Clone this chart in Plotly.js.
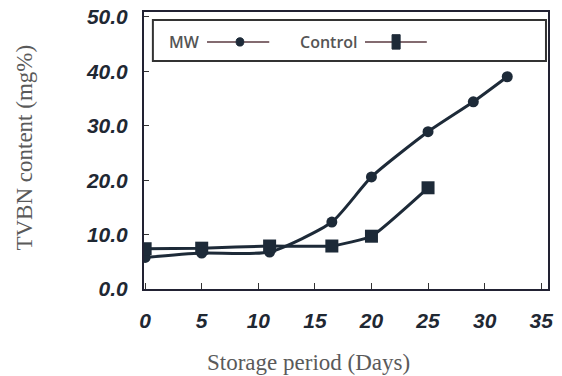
<!DOCTYPE html>
<html>
<head>
<meta charset="utf-8">
<script src="https://cdn.plot.ly/plotly-3.0.1.min.js"></script>
<style>
  html, body { margin: 0; padding: 0; background: #fff; }
  #chart { width: 562px; height: 376px; }
</style>
</head>
<body>
<div id="chart"></div>
<script>
// Storage days and TVBN readings (mg%)
const mwDays = [0, 5, 11, 16.5, 20, 25, 29, 32];
const mwTvbn = [5.8, 6.6, 6.8, 12.3, 20.6, 28.9, 34.4, 39.0];
const controlDays = [0, 5, 11, 16.5, 20, 25];
const controlTvbn = [7.4, 7.5, 7.9, 7.9, 9.7, 18.6];

const xTicks = [0, 5, 10, 15, 20, 25, 30, 35];
const yTicks = [0, 10, 20, 30, 40, 50];
const seriesNames = ['MW', 'Control'];

const ink = '#1d2a38';
const tickFont = { family: 'Liberation Sans, Arial, sans-serif', size: 21, color: '#1f2833', weight: 'bold', style: 'italic' };
const titleFont = { family: 'Liberation Serif, Times New Roman, serif', size: 23, color: '#5a5a5a' };
const legendFont = { family: 'Open Sans, sans-serif', size: 16, color: '#555', weight: 600 };

const traces = [
  {
    x: mwDays, y: mwTvbn, name: seriesNames[0], type: 'scatter', mode: 'lines+markers',
    line: { color: ink, width: 3, shape: 'spline', smoothing: 0.6 },
    marker: { symbol: 'circle', size: 11, color: ink }
  },
  {
    x: controlDays, y: controlTvbn, name: seriesNames[1], type: 'scatter', mode: 'lines+markers',
    line: { color: ink, width: 3, shape: 'spline', smoothing: 0.4 },
    marker: { symbol: 'square', size: 13, color: ink }
  }
];

// Legend drawn by hand: label first, then the line sample with its marker
const shapes = [
  { type: 'rect', xref: 'paper', yref: 'paper', x0: 0.022, x1: 0.995, y0: 0.823, y1: 0.971,
    line: { color: '#333', width: 2 }, fillcolor: 'rgba(0,0,0,0)' },
  { type: 'line', xref: 'paper', yref: 'paper', x0: 0.156, x1: 0.31, y0: 0.892, y1: 0.892,
    line: { color: '#5a3a40', width: 1.5 } },
  { type: 'circle', xref: 'paper', yref: 'paper', x0: 0.228, x1: 0.247, y0: 0.877, y1: 0.907,
    fillcolor: ink, line: { color: ink, width: 1 } },
  { type: 'line', xref: 'paper', yref: 'paper', x0: 0.547, x1: 0.70, y0: 0.892, y1: 0.892,
    line: { color: '#5a3a40', width: 1.5 } },
  { type: 'rect', xref: 'paper', yref: 'paper', x0: 0.614, x1: 0.634, y0: 0.866, y1: 0.918,
    fillcolor: ink, line: { color: ink, width: 1 } }
];

const annotations = [
  { text: seriesNames[0], xref: 'paper', yref: 'paper', x: 0.057, y: 0.892, xanchor: 'left', yanchor: 'middle',
    showarrow: false, font: legendFont },
  { text: seriesNames[1], xref: 'paper', yref: 'paper', x: 0.381, y: 0.892, xanchor: 'left', yanchor: 'middle',
    showarrow: false, font: legendFont },
  { text: 'Storage period (Days)', xref: 'paper', yref: 'paper', x: 0.408, y: -0.265, xanchor: 'center', yanchor: 'middle',
    showarrow: false, font: titleFont },
  { text: 'TVBN content (mg%)', xref: 'paper', yref: 'paper', x: -0.295, y: 0.51, xanchor: 'center', yanchor: 'middle',
    textangle: -90, showarrow: false, font: titleFont }
];

const layout = {
  width: 562, height: 376,
  margin: { l: 144, r: 14, t: 12, b: 87 },
  paper_bgcolor: '#fff', plot_bgcolor: '#fff',
  showlegend: false,
  xaxis: {
    range: [-0.1, 35.6], tickvals: xTicks, ticktext: xTicks.map(String),
    ticks: 'inside', ticklen: 6, tickcolor: '#333', tickwidth: 1,
    showline: true, linecolor: '#223', linewidth: 2, mirror: true,
    showgrid: false, zeroline: false,
    tickfont: tickFont, ticklabelstandoff: 12
  },
  yaxis: {
    range: [0, 50.9], tickvals: yTicks, ticktext: yTicks.map(v => v.toFixed(1)),
    ticks: 'inside', ticklen: 5, tickcolor: '#333', tickwidth: 1,
    showline: true, linecolor: '#223', linewidth: 2, mirror: true,
    showgrid: false, zeroline: false,
    tickfont: tickFont, ticklabelstandoff: 10
  },
  shapes: shapes,
  annotations: annotations
};

Plotly.newPlot('chart', traces, layout, { staticPlot: true, displayModeBar: false });
</script>
</body>
</html>
